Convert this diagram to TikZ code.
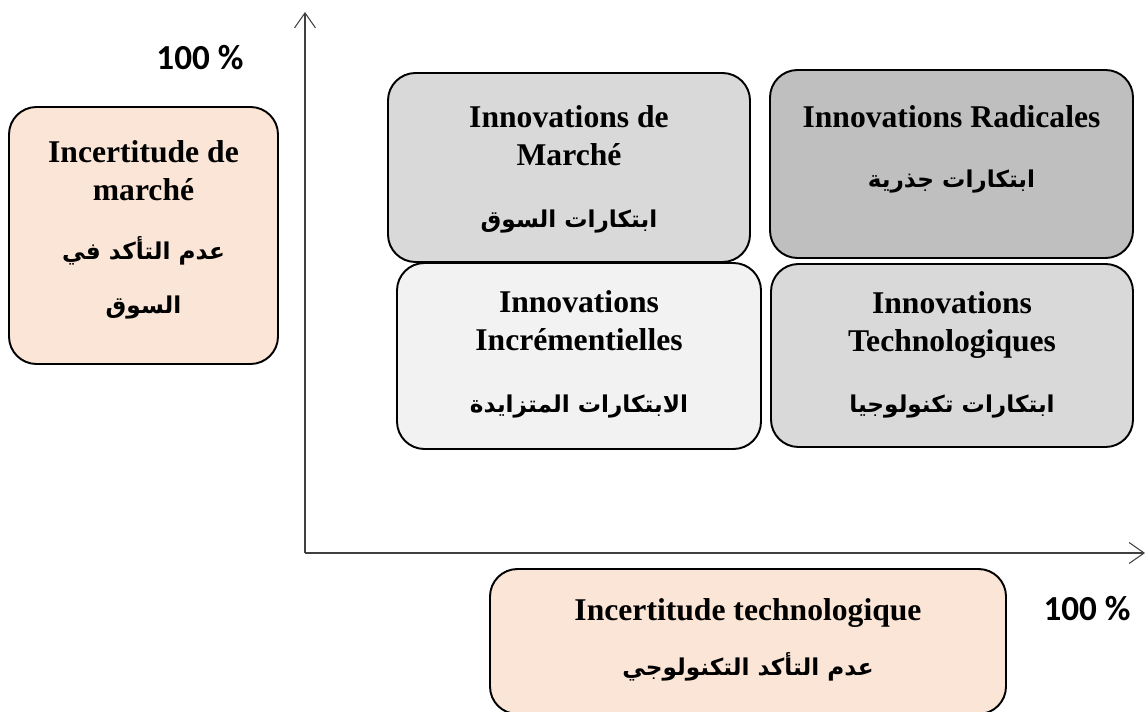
\documentclass[tikz,border=0pt]{standalone}
\usepackage{fontspec}
\setmainfont{Liberation Serif}
\newfontfamily\pctfont{Carlito}
\newfontfamily\arabicfont[Script=Arabic]{DejaVu Sans}
\TeXXeTstate=1
\usetikzlibrary{arrows.meta, positioning}

\definecolor{peach}{HTML}{FBE5D6}
\definecolor{axisgray}{HTML}{404040}
\newcommand{\artext}[1]{{\arabicfont\bfseries\fontsize{13.2}{21.6}\selectfont\beginR #1\endR}}

\tikzset{
    quad/.style={draw, line width=1.1pt, rounded corners=0.55cm, inner sep=0pt, outer sep=0pt},
    boxtext/.style={align=center, inner sep=0pt, font=\bfseries\fontsize{18}{21.6}\selectfont},
    pct/.style={anchor=base, inner sep=0pt, font=\pctfont\bfseries\fontsize{20}{24}\selectfont},
    axis/.style={draw=axisgray, line width=0.6pt}
}

\begin{document}
\begin{tikzpicture}[>={Straight Barb[length=3mm, width=4.2mm]}]
    \useasboundingbox (0,0) rectangle (22.92,14.22);

    \coordinate (origin) at (6.10, 3.16);
    \coordinate (ytip) at (6.10, 13.98);
    \coordinate (xtip) at (22.90, 3.16);
    \draw[axis, ->] (origin) -- (ytip);
    \draw[axis, ->] (origin) -- (xtip);

    \node[pct] at (4.00, 12.82) (pcty) {100 \%};
    \node[pct] at (21.74, 1.82) (pctx) {100 \%};

    \node[quad, fill=peach, minimum width=5.38cm, minimum height=5.14cm] at (2.87, 9.51) (marketunc) {};
    \node[boxtext, below=0.66cm of marketunc.north] (marketunctxt) {Incertitude de\\marché\\[0.42cm]\artext{عدم التأكد في}\\[0.32cm]\artext{السوق}};

    \node[quad, fill=black!15, minimum width=7.24cm, minimum height=3.78cm] at (11.38, 10.87) (marche) {};
    \node[boxtext, below=0.64cm of marche.north] (marchetxt) {Innovations de\\Marché\\[0.48cm]\artext{ابتكارات السوق}};

    \node[quad, fill=black!25, minimum width=7.26cm, minimum height=3.76cm] at (19.03, 10.94) (radical) {};
    \node[boxtext, below=0.7cm of radical.north] (radicaltxt) {Innovations Radicales\\[0.44cm]\artext{ابتكارات جذرية}};

    \node[quad, fill=black!5, minimum width=7.28cm, minimum height=3.72cm] at (11.58, 7.10) (increment) {};
    \node[boxtext, below=0.54cm of increment.north] (incrementtxt) {Innovations\\Incrémentielles\\[0.48cm]\artext{الابتكارات المتزايدة}};

    \node[quad, fill=black!15, minimum width=7.24cm, minimum height=3.66cm] at (19.04, 7.11) (techno) {};
    \node[boxtext, below=0.54cm of techno.north] (technotxt) {Innovations\\Technologiques\\[0.46cm]\artext{ابتكارات تكنولوجيا}};

    \node[quad, fill=peach, minimum width=10.32cm, minimum height=2.90cm] at (14.96, 1.39) (technounc) {};
    \node[boxtext, below=0.58cm of technounc.north] (technounctxt) {Incertitude technologique\\[0.34cm]\artext{عدم التأكد التكنولوجي}};
\end{tikzpicture}
\end{document}
